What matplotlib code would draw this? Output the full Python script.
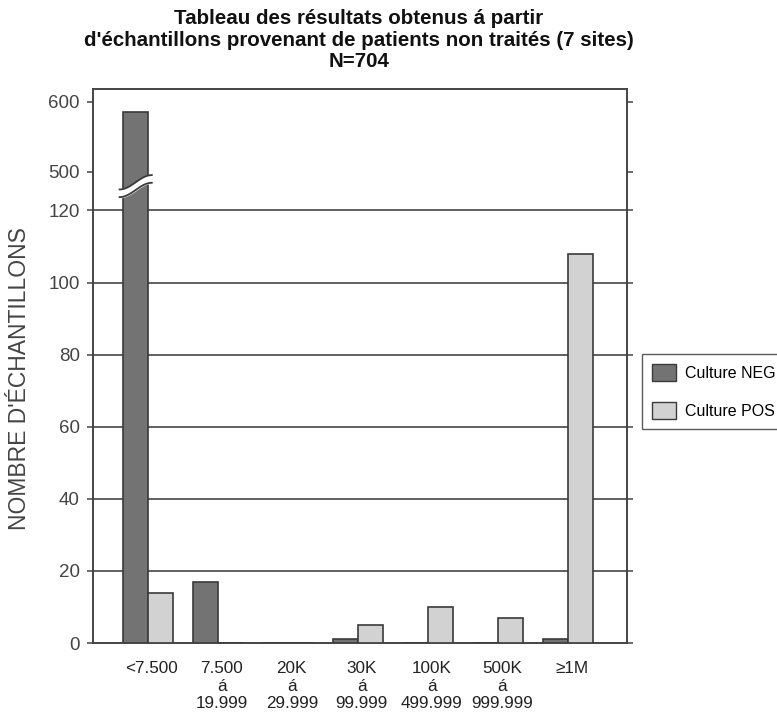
import numpy as np
import matplotlib
matplotlib.use('Agg')
from matplotlib import pyplot as plt
from matplotlib.patches import Patch

plt.rcParams['font.family'] = ['Liberation Sans', 'DejaVu Sans']

categories = ['<7.500', '7.500\ná\n19.999', '20K\ná\n29.999', '30K\ná\n99.999',
              '100K\ná\n499.999', '500K\ná\n999.999', '≥1M']
culture_neg = [585, 17, 0, 1, 0, 0, 1]
culture_pos = [14, 0, 0, 5, 10, 7, 108]
y_ticks = [0, 20, 40, 60, 80, 100, 120, 500, 600]

NEG_COLOR = '#737373'
POS_COLOR = '#d2d2d2'
EDGE = '#3a3a3a'

# broken axis: 0-120 linear, short gap, then 500-600 compressed
GAP = 10.8
RATIO = 0.194


def fwd(y):
    y = np.asarray(y, dtype=float)
    return np.where(y <= 120, y,
                    np.where(y < 500, 120 + (y - 120) * GAP / 380,
                             120 + GAP + (y - 500) * RATIO))


def inv(v):
    v = np.asarray(v, dtype=float)
    return np.where(v <= 120, v,
                    np.where(v < 120 + GAP, 120 + (v - 120) * 380 / GAP,
                             500 + (v - 120 - GAP) / RATIO))


fig = plt.figure(figsize=(7.77, 7.12), dpi=100)
ax = fig.add_axes([93 / 777, 1 - 643 / 712, 534 / 777, 554 / 712])
ax.set_yscale('function', functions=(fwd, inv))

x = np.arange(len(categories))
w = 0.36
ax.bar(x - w / 2, culture_neg, w, color=NEG_COLOR, edgecolor=EDGE, linewidth=1.2, zorder=3)
ax.bar(x + w / 2, culture_pos, w, color=POS_COLOR, edgecolor=EDGE, linewidth=1.2, zorder=3)

# break mark on the tall bar
t = np.linspace(-0.5, 0.5, 50)
xb = (x[0] - w / 2) + t * 0.46
low = 320 + 70 * np.sin(np.pi * t)
high = low + 75
ax.fill_between(xb, low, high, color='white', zorder=4)
ax.plot(xb, low, color=EDGE, lw=1.3, zorder=5)
ax.plot(xb, high, color=EDGE, lw=1.3, zorder=5)

ax.set_xlim(-0.79, 6.84)
ax.set_ylim(0, 618)
ax.set_yticks(y_ticks)
ax.set_yticklabels([str(v) for v in y_ticks], fontsize=13.5, color='#444444')
ax.set_xticks(x + 0.05)
ax.set_xticklabels(categories, fontsize=12.3, color='#222222', linespacing=1.22)
ax.tick_params(axis='x', length=0, pad=13)
ax.tick_params(axis='y', direction='out', length=4.5, width=1.1, color='#444444',
               right=True, pad=5)

for v in y_ticks[1:7]:
    ax.axhline(v, color='#444444', lw=1.2, zorder=1)

for s in ax.spines.values():
    s.set_color('#444444')
    s.set_linewidth(1.4)

fig.text(20 / 777, 1 - 379 / 712, "NOMBRE D'ÉCHANTILLONS", rotation=90,
         ha='center', va='center', fontsize=16.5, color='#444444')

fig.text(359 / 777, 1 - 40 / 712,
         "Tableau des résultats obtenus á partir\n"
         "d'échantillons provenant de patients non traités (7 sites)\nN=704",
         ha='center', va='center', fontsize=14.8, fontweight='bold',
         linespacing=1.19, color='#111111')

handles = [Patch(facecolor=NEG_COLOR, edgecolor=EDGE, label='Culture NEG'),
           Patch(facecolor=POS_COLOR, edgecolor=EDGE, label='Culture POS')]
leg = fig.legend(handles=handles, loc='upper left',
                 bbox_to_anchor=(642 / 777, 1 - 354 / 712), fontsize=11.5,
                 frameon=True, fancybox=False, borderaxespad=0,
                 handlelength=1.5, handleheight=1.3, borderpad=0.6,
                 labelspacing=1.3, handletextpad=0.6)
leg.get_frame().set_edgecolor('#333333')
leg.get_frame().set_linewidth(1)

fig.savefig('out.png', dpi=100)
